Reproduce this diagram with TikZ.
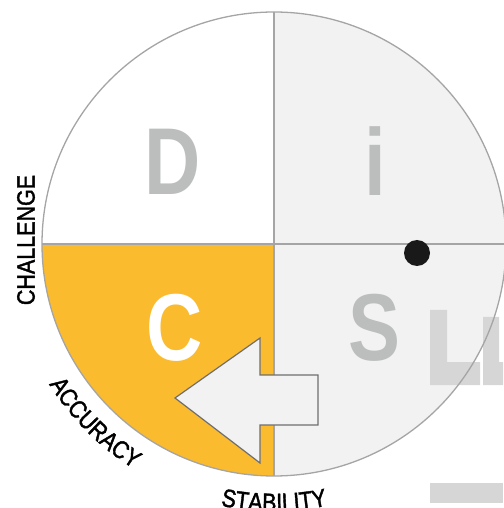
\documentclass[tikz,border=0pt]{standalone}
\usepackage{fontspec}
\setmainfont{Liberation Sans}
\newfontfamily\letterfont[FakeStretch=0.82]{Liberation Sans}
\newfontfamily\labfont[FakeStretch=0.86, FakeBold=1.6]{Liberation Sans}
\usetikzlibrary{decorations.text}
\definecolor{orangeC}{HTML}{FBBB2F}
\definecolor{qgrey}{HTML}{F2F2F2}
\definecolor{lineg}{HTML}{A5A5A5}
\definecolor{letg}{HTML}{BCBEBE}
\definecolor{barg}{HTML}{D6D6D6}
\definecolor{arrowline}{HTML}{6E6E6E}
\tikzset{
  bigletter/.style={font=\letterfont\fontsize{95}{95}\selectfont\bfseries, inner sep=0pt, text=letg},
  sidelabel/.style={font=\labfont\fontsize{25}{25}\selectfont, inner sep=0pt, text=black},
  quadline/.style={draw=lineg, line width=1.3pt},
  bar/.style={fill=barg},
}
\begin{document}
\begin{tikzpicture}[x=1pt,y=1pt]
\useasboundingbox (-274,-264) rectangle (229,244);
\def\R{232}
% quadrant fills
\fill[white] (0,0) -- (180:\R) arc (180:90:\R) -- cycle;
\fill[qgrey] (0,0) -- (90:\R) arc (90:0:\R) -- cycle;
\fill[qgrey] (0,0) -- (0:\R) arc (360:270:\R) -- cycle;
\fill[orangeC] (0,0) -- (270:\R) arc (270:180:\R) -- cycle;
% grey bars on the right
\fill[bar] (156,-66) -- (173,-66) -- (173,-118) -- (206,-118) -- (206,-141) -- (156,-141) -- cycle;
\fill[bar] (209,-73) -- (225,-73) -- (225,-118) -- (229,-118) -- (229,-141) -- (209,-141) -- cycle;
\fill[bar] (156,-239) rectangle (229,-259);
% outlines
\draw[quadline] (0,0) circle (\R);
\draw[quadline] (-\R,0) -- (\R,0);
\draw[quadline] (0,\R) -- (0,-\R);
% letters
\node[bigletter] (D) at (-101,82) {D};
\node[bigletter] (i) at (101,83) {i};
\node[bigletter, text=white] (C) at (-99,-84) {C};
\node[bigletter] (S) at (100,-84) {S};
% dot
\fill[black!90] (143,-9) circle (13);
% arrow
\filldraw[fill=qgrey, draw=arrowline, line width=1.2pt, line join=miter]
  (-99,-154) -- (-14,-94) -- (-14,-131) -- (44,-131) -- (44,-181) -- (-14,-181) -- (-14,-219) -- cycle;
% labels
\node[sidelabel, rotate=90] (chal) at (-248,4) {CHALLENGE};
\path[decorate, decoration={text along path, text align=center,
  text={|\labfont\fontsize{25}{25}\selectfont|ACCURACY}}]
  (198:265) arc (198:252:265);
\path[decorate, decoration={text along path, text align=center,
  text={|\labfont\fontsize{25}{25}\selectfont|STABILITY}}]
  (243:267) arc (243:297:267);
\end{tikzpicture}
\end{document}
